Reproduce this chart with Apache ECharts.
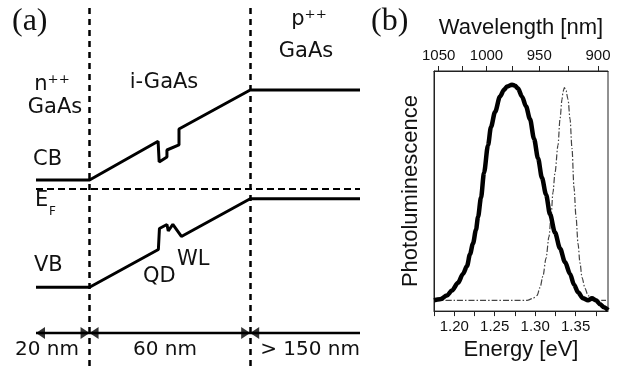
<!DOCTYPE html>
<html>
<head>
<meta charset="utf-8">
<script src="https://cdn.jsdelivr.net/npm/echarts@6/dist/echarts.min.js"></script>
<style>
  html, body { margin: 0; padding: 0; background: #fff; }
  #chart { width: 617px; height: 366px; }
</style>
</head>
<body>
<div id="chart"></div>
<script>
// (a) band diagram: position [nm], energy [eV] relative to E_F
const cbPoints = [
  [0, 0.12], [20, 0.12], [45.6, 0.636], [46, 0.36], [48.9, 0.427], [48.9, 0.52],
  [53.4, 0.587], [53.4, 0.8], [80, 1.32], [121, 1.32],
];
const vbPoints = [
  [0, -1.31], [20, -1.31], [45.7, -0.807], [46.1, -0.527], [48.9, -0.473],
  [49.4, -0.56], [51.1, -0.473], [54.3, -0.633], [80, -0.13], [121, -0.13],
];
const layerEdges = [20, 80]; // nm
const fermiLevel = 0;
const scaleLevel = -1.92;
const scaleStops = [0, 20, 80, 121];

// (b) photoluminescence spectra
const qdEnergy = [
  1.175, 1.1824, 1.191, 1.1972, 1.2047, 1.2108, 1.2158, 1.2195, 1.2232, 1.2269,
  1.2294, 1.2331, 1.2368, 1.2417, 1.2454, 1.2504, 1.2566, 1.2615, 1.2652, 1.2714,
  1.2751, 1.2788, 1.2837, 1.2887, 1.2936, 1.2986, 1.3035, 1.3084, 1.3134, 1.3183,
  1.3245, 1.3307, 1.3369, 1.3431, 1.348, 1.353, 1.3591, 1.3653, 1.3702, 1.3752,
  1.3801, 1.385, 1.39,
];
const qdPL = [
  0.045, 0.049, 0.065, 0.086, 0.118, 0.155, 0.188, 0.237, 0.282, 0.339,
  0.392, 0.473, 0.576, 0.69, 0.767, 0.829, 0.894, 0.922, 0.935, 0.943,
  0.939, 0.927, 0.894, 0.853, 0.8, 0.718, 0.637, 0.555, 0.486, 0.404,
  0.327, 0.261, 0.204, 0.155, 0.11, 0.078, 0.053, 0.045, 0.053, 0.045,
  0.029, 0.016, 0.004,
];
const refEnergy = [
  1.175, 1.2, 1.25, 1.29, 1.2973, 1.3023, 1.306, 1.3097, 1.3134, 1.3171,
  1.3196, 1.322, 1.3245, 1.3282, 1.3307, 1.3332, 1.3344, 1.3362, 1.3381, 1.3406,
  1.3431, 1.3455, 1.348, 1.3505, 1.353, 1.3554, 1.3579, 1.3616, 1.3653, 1.3702,
  1.3752, 1.3875,
];
const refPL = [
  0.045, 0.045, 0.045, 0.045, 0.053, 0.065, 0.098, 0.147, 0.22, 0.31,
  0.392, 0.494, 0.576, 0.69, 0.8, 0.882, 0.914, 0.931, 0.918, 0.882,
  0.8, 0.678, 0.514, 0.392, 0.28, 0.2, 0.14, 0.095, 0.065, 0.049,
  0.045, 0.045,
];
const energyTicks = [1.20, 1.25, 1.30, 1.35];
const energyMinorTicks = [1.175, 1.2, 1.225, 1.25, 1.275, 1.3, 1.325, 1.35, 1.375];
const wavelengthTicks = [1050, 1000, 950, 900];
const wavelengthMinorTicks = [1050, 1025, 1000, 975, 950, 925, 900];

const HC = 1239.84; // eV nm
const toEnergy = (nm) => HC / nm;
const zip = (xs, ys) => xs.map((x, i) => [x, ys[i]]);

const sansA = '"DejaVu Sans", Verdana, sans-serif';
const sansB = '"Liberation Sans", Arial, sans-serif';
const serif = '"Liberation Serif", "Times New Roman", serif';

function label(text, x, y, size, opts = {}) {
  return {
    type: "text",
    x: x,
    y: y,
    style: {
      text: text,
      font: size + "px " + (opts.family || sansA),
      fill: "#111",
      align: opts.align || "left",
      verticalAlign: "middle",
    },
  };
}

const chart = echarts.init(document.getElementById("chart"));
chart.setOption({
  animation: false,
  backgroundColor: "#fff",
  grid: [
    { left: 36, top: 6, width: 324, height: 360 },
    { left: 434, top: 71, width: 174, height: 245, show: true, borderColor: "#222", borderWidth: 1 },
  ],
  xAxis: [
    { gridIndex: 0, type: "value", min: 0, max: 121, show: false },
    {
      gridIndex: 1,
      type: "value",
      position: "bottom",
      min: 1.175,
      max: 1.39,
      axisLine: { lineStyle: { color: "#222", width: 1 } },
      axisTick: { customValues: energyMinorTicks, length: 5, lineStyle: { color: "#222" } },
      axisLabel: {
        customValues: energyTicks,
        formatter: (v) => v.toFixed(2),
        fontFamily: sansB,
        fontSize: 15,
        color: "#111",
        margin: 8,
      },
      splitLine: { show: false },
      name: "Energy [eV]",
      nameLocation: "middle",
      nameGap: 26,
      nameTextStyle: { fontFamily: sansB, fontSize: 22, color: "#111" },
    },
    {
      gridIndex: 1,
      type: "value",
      position: "top",
      min: 1.175,
      max: 1.39,
      axisLine: { lineStyle: { color: "#222", width: 1 } },
      axisTick: { customValues: wavelengthMinorTicks.map(toEnergy), length: 5, lineStyle: { color: "#222" } },
      axisLabel: {
        customValues: wavelengthTicks.map(toEnergy),
        formatter: (v) => String(Math.round(HC / v)),
        fontFamily: sansB,
        fontSize: 15,
        color: "#111",
        margin: 8,
      },
      splitLine: { show: false },
      name: "Wavelength [nm]",
      nameLocation: "middle",
      nameGap: 32,
      nameTextStyle: { fontFamily: sansB, fontSize: 22, color: "#111" },
    },
  ],
  yAxis: [
    { gridIndex: 0, type: "value", min: -2.36, max: 2.44, show: false },
    {
      gridIndex: 1,
      type: "value",
      min: 0,
      max: 1,
      axisLine: { show: true, lineStyle: { color: "#222", width: 1 } },
      axisTick: { show: false },
      axisLabel: { show: false },
      splitLine: { show: false },
      name: "Photoluminescence",
      nameLocation: "middle",
      nameRotate: 90,
      nameGap: 12,
      nameTextStyle: { fontFamily: sansB, fontSize: 22, color: "#111" },
    },
  ],
  series: [
    {
      name: "CB",
      type: "line",
      xAxisIndex: 0,
      yAxisIndex: 0,
      data: cbPoints,
      symbol: "none",
      lineStyle: { color: "#000", width: 3 },
      markLine: {
        silent: true,
        symbol: "none",
        label: { show: false },
        lineStyle: { color: "#000", width: 2.5, type: [6, 5] },
        data: layerEdges.map((x) => ({ xAxis: x })),
      },
    },
    {
      name: "VB",
      type: "line",
      xAxisIndex: 0,
      yAxisIndex: 0,
      data: vbPoints,
      symbol: "none",
      lineStyle: { color: "#000", width: 3 },
    },
    {
      name: "EF",
      type: "line",
      xAxisIndex: 0,
      yAxisIndex: 0,
      data: [[scaleStops[0], fermiLevel], [scaleStops[3], fermiLevel]],
      symbol: "none",
      lineStyle: { color: "#000", width: 2, type: [7, 4] },
    },
    {
      name: "scale",
      type: "line",
      xAxisIndex: 0,
      yAxisIndex: 0,
      data: [[scaleStops[0], scaleLevel], [scaleStops[3], scaleLevel]],
      symbol: "none",
      lineStyle: { color: "#000", width: 2.5 },
    },
    {
      name: "arrowLeft",
      type: "scatter",
      xAxisIndex: 0,
      yAxisIndex: 0,
      data: scaleStops.slice(0, 3).map((x) => [x, scaleLevel]),
      symbol: "triangle",
      symbolSize: [12, 9],
      symbolRotate: 90,
      symbolOffset: [4.5, 0],
      itemStyle: { color: "#000" },
    },
    {
      name: "arrowRight",
      type: "scatter",
      xAxisIndex: 0,
      yAxisIndex: 0,
      data: scaleStops.slice(1, 3).map((x) => [x, scaleLevel]),
      symbol: "triangle",
      symbolSize: [12, 9],
      symbolRotate: -90,
      symbolOffset: [-4.5, 0],
      itemStyle: { color: "#000" },
    },
    {
      name: "reference",
      type: "line",
      xAxisIndex: 1,
      yAxisIndex: 1,
      data: zip(refEnergy, refPL),
      symbol: "none",
      smooth: 0.3,
      smoothMonotone: "x",
      lineStyle: { color: "#444", width: 1.2, type: [6, 2, 1.5, 2] },
    },
    {
      name: "QD",
      type: "line",
      xAxisIndex: 1,
      yAxisIndex: 1,
      data: zip(qdEnergy, qdPL),
      symbol: "none",
      smooth: 0.3,
      smoothMonotone: "x",
      lineStyle: { color: "#000", width: 4.5 },
    },
  ],
  graphic: [
    label("(a)", 12, 22, 32, { family: serif }),
    label("(b)", 371, 22, 32, { family: serif }),
    label("n⁺⁺", 52, 85, 21, { align: "center" }),
    label("GaAs", 55, 108, 21, { align: "center" }),
    label("i-GaAs", 164, 83, 21, { align: "center" }),
    label("p⁺⁺", 309, 20, 21, { align: "center" }),
    label("GaAs", 306, 52, 21, { align: "center" }),
    label("CB", 33, 160, 21),
    label("E", 35, 201, 21),
    label("F", 49, 212, 12),
    label("VB", 34, 266, 21),
    label("QD", 143, 277, 21),
    label("WL", 177, 260, 21),
    label("20 nm", 15, 350, 20),
    label("60 nm", 133, 350, 20),
    label("> 150 nm", 360, 350, 20, { align: "right" }),
  ],
});
</script>
</body>
</html>
